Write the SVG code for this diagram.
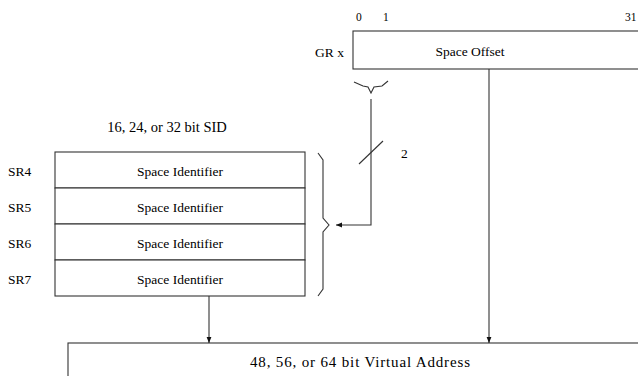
<svg xmlns="http://www.w3.org/2000/svg" width="638" height="376" viewBox="0 0 638 376">
<defs>
<style>
text{font-family:"Liberation Serif","Times New Roman",serif;font-size:13.5px;fill:#000}
.c{text-anchor:middle}
.box{fill:#fff;stroke:#333;stroke-width:1.1}
.ln{fill:none;stroke:#333;stroke-width:1.1}
.sm{font-size:11.5px}
</style>
<marker id="ah" viewBox="0 0 10 10" refX="10" refY="5" markerWidth="6" markerHeight="6" orient="auto" markerUnits="userSpaceOnUse">
<path d="M0,1 L10,5 L0,9 Z" fill="#111"/>
</marker>
</defs>
<rect width="638" height="376" fill="#fff"/>

<g id="bits">
<text class="sm" x="356" y="21">0</text>
<text class="sm" x="383" y="21">1</text>
<text class="sm" x="625" y="21">31</text>
</g>

<g id="grx">
<text x="344" y="57" text-anchor="end">GR x</text>
<rect class="box" x="353" y="31" width="320" height="38"/>
<text class="c" x="470" y="56">Space Offset</text>
</g>

<g id="sid-title">
<text class="c" x="167" y="132" style="font-size:14.5px">16, 24, or 32 bit SID</text>
</g>

<g id="sr4">
<text x="8" y="176">SR4</text>
<rect class="box" x="55" y="152" width="250" height="36"/>
<text class="c" x="180" y="176">Space  Identifier</text>
</g>
<g id="sr5">
<text x="8" y="212">SR5</text>
<rect class="box" x="55" y="188" width="250" height="36"/>
<text class="c" x="180" y="212">Space  Identifier</text>
</g>
<g id="sr6">
<text x="8" y="248">SR6</text>
<rect class="box" x="55" y="224" width="250" height="36"/>
<text class="c" x="180" y="248">Space  Identifier</text>
</g>
<g id="sr7">
<text x="8" y="284">SR7</text>
<rect class="box" x="55" y="260" width="250" height="36"/>
<text class="c" x="180" y="284">Space  Identifier</text>
</g>

<g id="va">
<rect class="box" x="68" y="343" width="620" height="60"/>
<text class="c" x="360" y="367" style="font-size:15px" textLength="220" lengthAdjust="spacing">48, 56, or 64 bit  Virtual Address</text>
</g>

<g id="connectors">
<path class="ln" d="M354,82 L363,86 L368,87 L371,93 L374,87 L382,86 L388,81"/>
<path class="ln" d="M318,153 L323,160 L323,218 L329,225 L323,232 L323,289 L318,296"/>
<path class="ln" d="M371,99 L371,225 L336,225" marker-end="url(#ah)"/>
<path class="ln" d="M359,164 L383,141"/>
<text x="401" y="158">2</text>
<path class="ln" d="M489,69 L489,343" marker-end="url(#ah)"/>
<path class="ln" d="M209,296 L209,343" marker-end="url(#ah)"/>
</g>
</svg>
